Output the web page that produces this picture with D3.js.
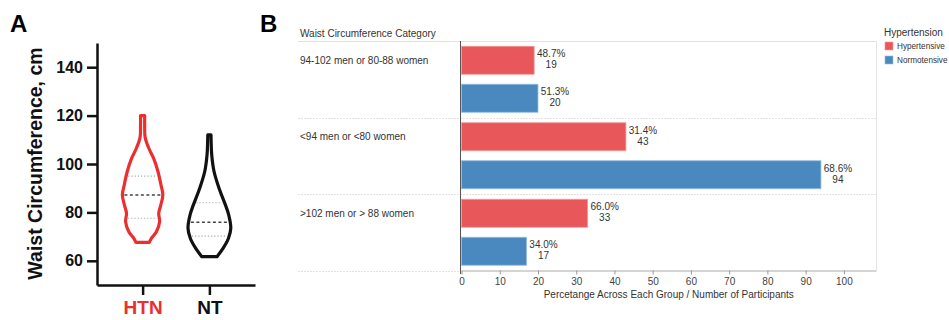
<!DOCTYPE html>
<html>
<head>
<meta charset="utf-8">
<script src="https://cdn.jsdelivr.net/npm/d3@7"></script>
<style>
  html, body { margin: 0; padding: 0; background: #fff; }
  svg { display: block; font-family: "Liberation Sans", Arial, sans-serif; }
</style>
</head>
<body>
<svg id="chart" width="949" height="320"></svg>
<script>
// ---------- Panel A: waist circumference distribution (violins) ----------
const violinGroups = ["HTN", "NT"];
const violinColors = ["#eb2f2f", "#111111"];
const waistTicks = [60, 80, 100, 120, 140];

// density outline, top to bottom (cm, relative density)
const htnWaist   = [120, 116, 111, 106.5, 102.3, 96.8, 91.3, 87.2, 83, 79.6, 76.2, 72, 69.3, 67.6];
const htnDensity = [0.09, 0.09, 0.11, 0.27, 0.48, 0.67, 0.8, 0.88, 0.79, 0.7, 0.74, 0.6, 0.38, 0.29];
const ntWaist    = [112, 108, 104, 97, 90, 83, 79, 73.5, 69.3, 65.2, 61.7];
const ntDensity  = [0.07, 0.08, 0.1, 0.2, 0.42, 0.7, 0.84, 0.93, 0.83, 0.6, 0.33];

// lower quartile, median, upper quartile (cm)
const htnQuartiles = [77.6, 87.2, 95.0];
const ntQuartiles  = [70.2, 75.9, 84.0];

// ---------- Panel B: waist category by hypertension status ----------
const categories = ["94-102 men or 80-88 women", "<94 men or <80 women", ">102 men or > 88 women"];
const seriesNames = ["Hypertensive", "Normotensive"];
const seriesColors = ["#e8585b", "#4a89bf"];
const seriesStroke = ["#f29a9c", "#93bde0"];
const hypertensiveCount = [19, 43, 33];
const normotensiveCount = [20, 94, 17];
const hypertensivePct = [48.7, 31.4, 66.0];
const normotensivePct = [51.3, 68.6, 34.0];
const countTicks = [0, 10, 20, 30, 40, 50, 60, 70, 80, 90, 100];

const svg = d3.select("#chart");

// ===== Panel A =====
const gA = svg.append("g");
gA.append("text").attr("x", 10).attr("y", 32)
  .attr("font-size", 24).attr("font-weight", "bold").text("A");

const yA = d3.scaleLinear().domain([50, 150]).range([285, 43]);
const xA = d3.scalePoint().domain(violinGroups).range([97, 255]).padding(0.683);
const wA = d3.scaleLinear().domain([0, 1]).range([0, 23]);

const yAxisA = gA.append("g").attr("transform", "translate(97,0)")
  .call(d3.axisLeft(yA).tickValues(waistTicks).tickSize(10).tickSizeOuter(0).tickPadding(4));
yAxisA.select(".domain").attr("stroke", "#111").attr("stroke-width", 2.5);
yAxisA.selectAll(".tick line").attr("stroke", "#111").attr("stroke-width", 2.5);
yAxisA.selectAll(".tick text").attr("font-size", 16).attr("font-weight", "bold")
  .attr("fill", "#111").attr("font-family", "Liberation Sans, Arial, sans-serif");

const xAxisA = gA.append("g").attr("transform", "translate(0,285)")
  .call(d3.axisBottom(xA).tickSize(10).tickSizeOuter(0).tickPadding(6));
xAxisA.select(".domain").attr("stroke", "#111").attr("stroke-width", 2.5);
xAxisA.selectAll(".tick line").attr("stroke", "#111").attr("stroke-width", 2.5);
xAxisA.selectAll(".tick text").attr("font-size", 19).attr("font-weight", "bold")
  .attr("font-family", "Liberation Sans, Arial, sans-serif")
  .attr("fill", (d, i) => violinColors[i]);

gA.append("text")
  .attr("transform", "translate(42,163.5) rotate(-90)")
  .attr("text-anchor", "middle")
  .attr("font-size", 19.5).attr("font-weight", "bold").attr("fill", "#111")
  .text("Waist Circumference, cm");

const violinData = [
  { group: "HTN", waist: htnWaist, density: htnDensity, q: htnQuartiles },
  { group: "NT",  waist: ntWaist,  density: ntDensity,  q: ntQuartiles }
];

function densityAt(v, waist, density) {
  for (let i = 0; i < waist.length - 1; i++) {
    const a = waist[i], b = waist[i + 1];
    if (v <= a && v >= b) {
      const t = (a - v) / (a - b);
      return density[i] + t * (density[i + 1] - density[i]);
    }
  }
  return 0;
}

violinData.forEach((g, gi) => {
  const cx = xA(g.group);
  const pts = g.waist.map((v, i) => ({ v, d: g.density[i] }));
  const area = d3.area()
    .y(p => yA(p.v))
    .x0(p => cx - wA(p.d))
    .x1(p => cx + wA(p.d))
    .curve(d3.curveCatmullRom.alpha(0.5));
  gA.append("path")
    .attr("d", area(pts))
    .attr("fill", "#fff")
    .attr("stroke", violinColors[gi])
    .attr("stroke-width", 3.2)
    .attr("stroke-linejoin", "round");

  g.q.forEach((qv, qi) => {
    const hw = wA(densityAt(qv, g.waist, g.density)) - 2;
    gA.append("line")
      .attr("x1", cx - hw).attr("x2", cx + hw)
      .attr("y1", yA(qv)).attr("y2", yA(qv))
      .attr("stroke", qi === 1 ? "#444" : "#aaa")
      .attr("stroke-width", qi === 1 ? 1.6 : 1.1)
      .attr("stroke-dasharray", qi === 1 ? "3,2.5" : "1.2,2");
  });
});

// ===== Panel B =====
const gB = svg.append("g");
gB.append("text").attr("x", 260).attr("y", 32)
  .attr("font-size", 24).attr("font-weight", "bold").text("B");

const xB = d3.scaleLinear().domain([0, 108.4]).range([461.5, 876]);
const yB = d3.scaleBand().domain(categories).range([41, 270.5]).paddingInner(0).paddingOuter(0);
const ySub = d3.scaleBand().domain(seriesNames).range([0, yB.bandwidth()])
  .paddingInner(0.263).paddingOuter(0.138);

const rows = categories.map((c, i) => ({
  category: c,
  values: [
    { series: seriesNames[0], count: hypertensiveCount[i], pct: hypertensivePct[i] },
    { series: seriesNames[1], count: normotensiveCount[i], pct: normotensivePct[i] }
  ]
}));

gB.append("text").attr("x", 300).attr("y", 37)
  .attr("font-size", 10).attr("fill", "#333")
  .text("Waist Circumference Category");

// row separators
const seps = [41].concat(categories.map(c => yB(c) + yB.bandwidth()));
seps.forEach((y, i) => {
  const last = i === seps.length - 1;
  gB.append("line")
    .attr("x1", 298).attr("x2", last ? 460 : 876)
    .attr("y1", Math.round(y) + 0.5).attr("y2", Math.round(y) + 0.5)
    .attr("stroke", "#e2e2e2").attr("stroke-width", 1)
    .attr("stroke-dasharray", i === 0 ? null : "2,1");
});

// right border of plot area
gB.append("line").attr("x1", 876.5).attr("x2", 876.5).attr("y1", 41).attr("y2", 270.5)
  .attr("stroke", "#e4e4e4");

// bars
const rowG = gB.selectAll("g.row").data(rows).enter().append("g")
  .attr("class", "row")
  .attr("transform", d => `translate(0,${yB(d.category)})`);

rowG.selectAll("rect").data(d => d.values).enter().append("rect")
  .attr("x", xB(0))
  .attr("y", d => ySub(d.series))
  .attr("width", d => xB(d.count) - xB(0))
  .attr("height", ySub.bandwidth())
  .attr("fill", (d, i) => seriesColors[i])
  .attr("stroke", (d, i) => seriesStroke[i])
  .attr("stroke-width", 0.8);

const lbl = rowG.selectAll("g.lbl").data(d => d.values).enter().append("g")
  .attr("class", "lbl")
  .attr("transform", d => `translate(${xB(d.count) + 17},${ySub(d.series) + ySub.bandwidth() / 2})`);
lbl.append("text").attr("text-anchor", "middle").attr("y", -3)
  .attr("font-size", 10).attr("fill", "#333").text(d => d.pct.toFixed(1) + "%");
lbl.append("text").attr("text-anchor", "middle").attr("y", 8)
  .attr("font-size", 10).attr("fill", "#333").text(d => d.count);

// category labels, aligned with first bar in each row
gB.selectAll("text.cat").data(categories).enter().append("text")
  .attr("class", "cat")
  .attr("x", 300)
  .attr("y", c => yB(c) + ySub(seriesNames[0]) + ySub.bandwidth() / 2 + 3.5)
  .attr("font-size", 10).attr("fill", "#333")
  .text(c => c);

// x axis
const xAxisB = gB.append("g").attr("transform", "translate(0,270.5)")
  .call(d3.axisBottom(xB).tickValues(countTicks).tickSize(4).tickSizeOuter(0).tickPadding(3));
xAxisB.select(".domain").attr("stroke", "#aaa");
xAxisB.selectAll(".tick line").attr("stroke", "#999");
xAxisB.selectAll(".tick text").attr("font-size", 10).attr("fill", "#444")
  .attr("font-family", "Liberation Sans, Arial, sans-serif");

// vertical zero line
gB.append("line").attr("x1", 460.5).attr("x2", 460.5).attr("y1", 41).attr("y2", 274)
  .attr("stroke", "#555").attr("stroke-width", 1);

gB.append("text").attr("x", (461.5 + 876) / 2).attr("y", 298)
  .attr("text-anchor", "middle").attr("font-size", 10).attr("fill", "#333")
  .text("Percetange Across Each Group / Number of Participants");

// legend
const leg = gB.append("g").attr("transform", "translate(884,0)");
leg.append("text").attr("x", 0).attr("y", 35.5).attr("font-size", 10).attr("fill", "#333")
  .text("Hypertension");
seriesNames.forEach((s, i) => {
  leg.append("rect").attr("x", 1).attr("y", 42 + i * 14).attr("width", 8).attr("height", 8)
    .attr("fill", seriesColors[i]).attr("stroke", seriesStroke[i]).attr("stroke-width", 0.6);
  leg.append("text").attr("x", 13).attr("y", 49 + i * 14).attr("font-size", 8.2).attr("fill", "#333")
    .text(s);
});
</script>
</body>
</html>
